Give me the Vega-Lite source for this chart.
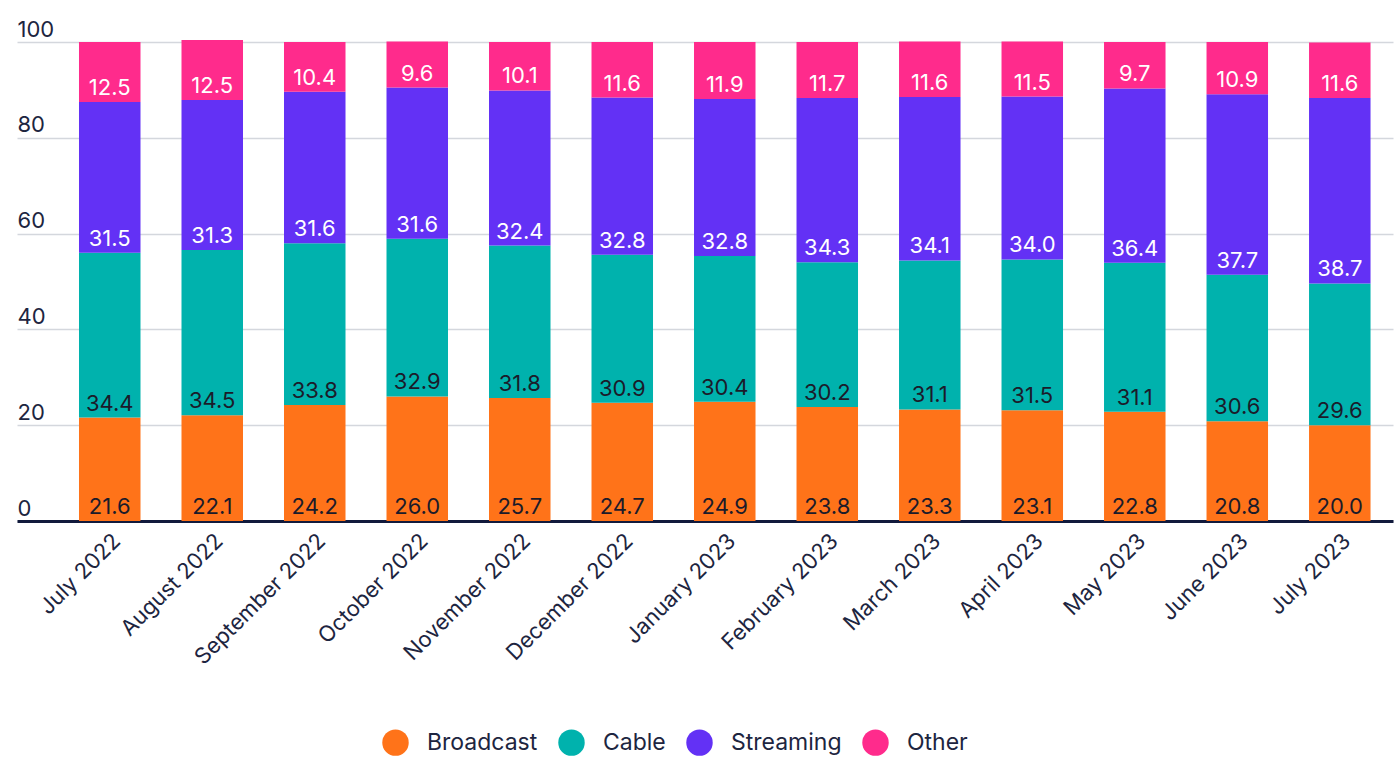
{
  "$schema": "https://vega.github.io/schema/vega-lite/v6.json",
  "autosize": "none",
  "width": 1376,
  "height": 479,
  "padding": {"left": 17, "top": 42, "right": 7, "bottom": 260},
  "background": "white",
  "config": {
    "view": {"stroke": null},
    "font": "Inter"
  },
  "data": {
    "values": [
      {"month": "July 2022", "series": "Broadcast", "value": 21.6},
      {"month": "July 2022", "series": "Cable", "value": 34.4},
      {"month": "July 2022", "series": "Streaming", "value": 31.5},
      {"month": "July 2022", "series": "Other", "value": 12.5},
      {"month": "August 2022", "series": "Broadcast", "value": 22.1},
      {"month": "August 2022", "series": "Cable", "value": 34.5},
      {"month": "August 2022", "series": "Streaming", "value": 31.3},
      {"month": "August 2022", "series": "Other", "value": 12.5},
      {"month": "September 2022", "series": "Broadcast", "value": 24.2},
      {"month": "September 2022", "series": "Cable", "value": 33.8},
      {"month": "September 2022", "series": "Streaming", "value": 31.6},
      {"month": "September 2022", "series": "Other", "value": 10.4},
      {"month": "October 2022", "series": "Broadcast", "value": 26.0},
      {"month": "October 2022", "series": "Cable", "value": 32.9},
      {"month": "October 2022", "series": "Streaming", "value": 31.6},
      {"month": "October 2022", "series": "Other", "value": 9.6},
      {"month": "November 2022", "series": "Broadcast", "value": 25.7},
      {"month": "November 2022", "series": "Cable", "value": 31.8},
      {"month": "November 2022", "series": "Streaming", "value": 32.4},
      {"month": "November 2022", "series": "Other", "value": 10.1},
      {"month": "December 2022", "series": "Broadcast", "value": 24.7},
      {"month": "December 2022", "series": "Cable", "value": 30.9},
      {"month": "December 2022", "series": "Streaming", "value": 32.8},
      {"month": "December 2022", "series": "Other", "value": 11.6},
      {"month": "January 2023", "series": "Broadcast", "value": 24.9},
      {"month": "January 2023", "series": "Cable", "value": 30.4},
      {"month": "January 2023", "series": "Streaming", "value": 32.8},
      {"month": "January 2023", "series": "Other", "value": 11.9},
      {"month": "February 2023", "series": "Broadcast", "value": 23.8},
      {"month": "February 2023", "series": "Cable", "value": 30.2},
      {"month": "February 2023", "series": "Streaming", "value": 34.3},
      {"month": "February 2023", "series": "Other", "value": 11.7},
      {"month": "March 2023", "series": "Broadcast", "value": 23.3},
      {"month": "March 2023", "series": "Cable", "value": 31.1},
      {"month": "March 2023", "series": "Streaming", "value": 34.1},
      {"month": "March 2023", "series": "Other", "value": 11.6},
      {"month": "April 2023", "series": "Broadcast", "value": 23.1},
      {"month": "April 2023", "series": "Cable", "value": 31.5},
      {"month": "April 2023", "series": "Streaming", "value": 34.0},
      {"month": "April 2023", "series": "Other", "value": 11.5},
      {"month": "May 2023", "series": "Broadcast", "value": 22.8},
      {"month": "May 2023", "series": "Cable", "value": 31.1},
      {"month": "May 2023", "series": "Streaming", "value": 36.4},
      {"month": "May 2023", "series": "Other", "value": 9.7},
      {"month": "June 2023", "series": "Broadcast", "value": 20.8},
      {"month": "June 2023", "series": "Cable", "value": 30.6},
      {"month": "June 2023", "series": "Streaming", "value": 37.7},
      {"month": "June 2023", "series": "Other", "value": 10.9},
      {"month": "July 2023", "series": "Broadcast", "value": 20.0},
      {"month": "July 2023", "series": "Cable", "value": 29.6},
      {"month": "July 2023", "series": "Streaming", "value": 38.7},
      {"month": "July 2023", "series": "Other", "value": 11.6}
    ]
  },
  "transform": [
    {"calculate": "indexof(['Broadcast','Cable','Streaming','Other'], datum.series)", "as": "k"},
    {"stack": "value", "groupby": ["month"], "sort": [{"field": "k", "order": "ascending"}], "as": ["v0", "v1"]}
  ],
  "encoding": {
    "x": {
      "field": "month",
      "type": "nominal",
      "sort": null,
      "scale": {"paddingInner": 0.4, "paddingOuter": 0.412, "align": 0.734},
      "axis": {
        "title": null,
        "domain": true,
        "domainColor": "#111a3c",
        "domainWidth": 3,
        "ticks": false,
        "labelAngle": -45,
        "labelFontSize": 22,
        "labelColor": "#1d2540",
        "labelPadding": 9
      }
    }
  },
  "layer": [
    {
      "mark": {"type": "bar"},
      "encoding": {
        "y": {
          "field": "v0",
          "type": "quantitative",
          "scale": {"domain": [0, 100], "nice": false},
          "axis": {
            "title": null,
            "values": [0, 20, 40, 60, 80, 100],
            "domain": false,
            "ticks": false,
            "tickSize": 0,
            "grid": true,
            "gridColor": "#d4d7dd",
            "gridWidth": 1.5,
            "labelAlign": "left",
            "labelBaseline": "alphabetic",
            "labelPadding": 0,
            "labelOffset": -6,
            "labelFontSize": 22,
            "labelColor": "#1d2540"
          }
        },
        "y2": {"field": "v1"},
        "color": {
          "field": "series",
          "type": "nominal",
          "scale": {
            "domain": ["Broadcast", "Cable", "Streaming", "Other"],
            "range": ["#FF7319", "#00B2AD", "#6331F5", "#FF2B8C"]
          },
          "legend": {
            "title": null,
            "orient": "none",
            "legendX": 365,
            "legendY": 687,
            "direction": "horizontal",
            "symbolType": "circle",
            "symbolSize": 700,
            "symbolStrokeWidth": 0,
            "symbolOpacity": 1,
            "labelFontSize": 23,
            "labelColor": "#1d2540",
            "labelOffset": 18,
            "columnPadding": 20
          }
        }
      }
    },
    {
      "mark": {"type": "text", "fontSize": 22, "dy": -7, "baseline": "alphabetic", "align": "center"},
      "encoding": {
        "y": {"field": "v0", "type": "quantitative"},
        "text": {"field": "value", "type": "quantitative", "format": ".1f"},
        "fill": {
          "condition": {"test": "datum.series === 'Broadcast' || datum.series === 'Cable'", "value": "#1b1b2a"},
          "value": "#ffffff"
        }
      }
    }
  ]
}
